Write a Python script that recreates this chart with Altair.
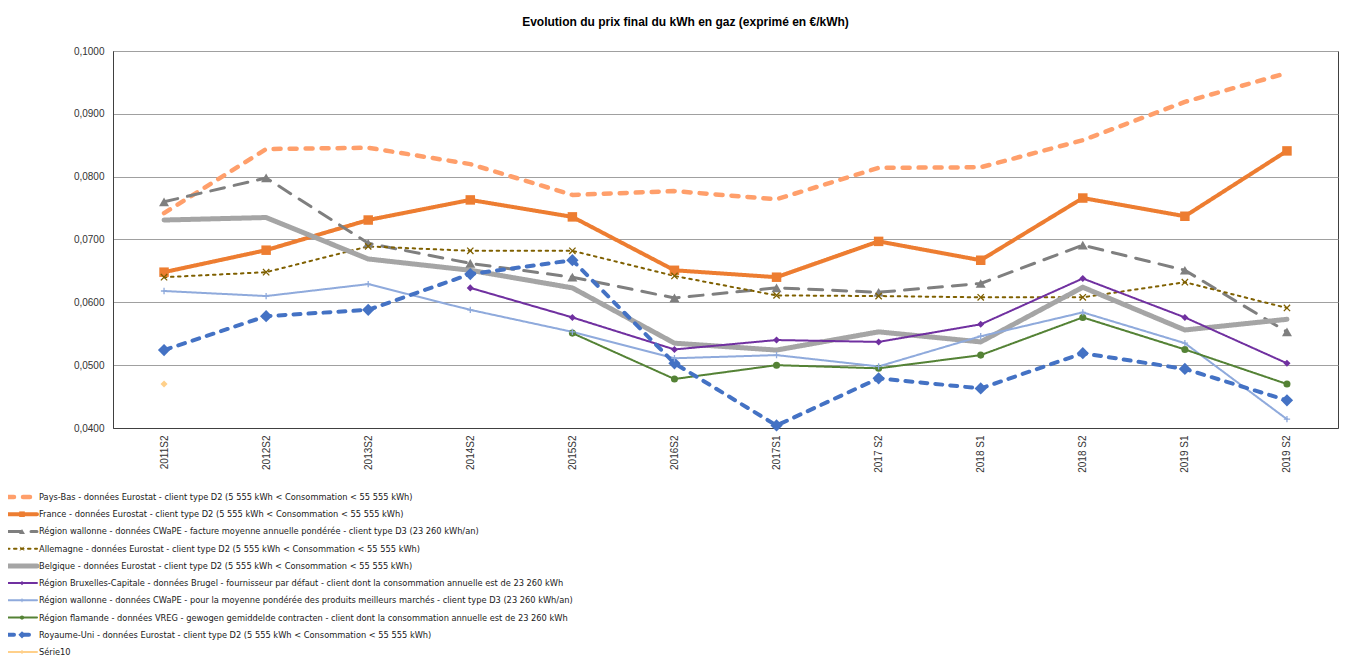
import altair as alt
import pandas as pd

# ---------------- data ----------------
periods = ["2011S2", "2012S2", "2013S2", "2014S2", "2015S2", "2016S2",
           "2017S1", "2017 S2", "2018 S1", "2018 S2", "2019 S1", "2019 S2"]

series_names = [
    "Pays-Bas - données Eurostat - client type D2 (5 555 kWh < Consommation < 55 555 kWh)",
    "France - données Eurostat - client type D2 (5 555 kWh < Consommation < 55 555 kWh)",
    "Région wallonne - données CWaPE - facture moyenne annuelle pondérée  - client type D3 (23 260 kWh/an)",
    "Allemagne - données Eurostat - client type D2 (5 555 kWh < Consommation < 55 555 kWh)",
    "Belgique - données Eurostat - client type D2 (5 555 kWh < Consommation < 55 555 kWh)",
    "Région Bruxelles-Capitale - données Brugel - fournisseur par défaut - client dont la consommation annuelle est de 23 260 kWh",
    "Région wallonne - données CWaPE - pour la moyenne pondérée des produits meilleurs marchés - client type D3 (23 260 kWh/an)",
    "Région flamande - données VREG - gewogen gemiddelde contracten - client dont la consommation annuelle est de 23 260 kWh",
    "Royaume-Uni - données Eurostat - client type D2 (5 555 kWh < Consommation < 55 555 kWh)",
    "Série10",
]

pays_bas = [0.0742, 0.0844, 0.0846, 0.0820, 0.0771, 0.0777, 0.0764, 0.0814, 0.0815, 0.0858, 0.0919, 0.0965]
france = [0.0648, 0.0683, 0.0731, 0.0763, 0.0736, 0.0651, 0.0640, 0.0697, 0.0667, 0.0766, 0.0737, 0.0841]
wallonie_facture = [0.0760, 0.0798, 0.0694, 0.0662, 0.0640, 0.0607, 0.0623, 0.0616, 0.0630, 0.0691, 0.0651, 0.0553]
allemagne = [0.0640, 0.0648, 0.0689, 0.0682, 0.0682, 0.0642, 0.0611, 0.0610, 0.0608, 0.0608, 0.0632, 0.0591]
belgique = [0.0731, 0.0735, 0.0669, 0.0651, 0.0623, 0.0535, 0.0524, 0.0553, 0.0537, 0.0624, 0.0556, 0.0573]
bruxelles = [None, None, None, 0.0623, 0.0576, 0.0525, 0.0540, 0.0537, 0.0565, 0.0638, 0.0576, 0.0503]
wallonie_mm = [0.0618, 0.0610, 0.0629, 0.0588, 0.0553, 0.0511, 0.0516, 0.0498, 0.0546, 0.0584, 0.0535, 0.0414]
flandre = [None, None, None, None, 0.0551, 0.0478, 0.0500, 0.0495, 0.0516, 0.0576, 0.0525, 0.0470]
royaume_uni = [0.0524, 0.0578, 0.0588, 0.0645, 0.0667, 0.0503, 0.0404, 0.0479, 0.0463, 0.0519, 0.0494, 0.0444]
serie10 = [0.0470, None, None, None, None, None, None, None, None, None, None, None]

all_values = [pays_bas, france, wallonie_facture, allemagne, belgique,
              bruxelles, wallonie_mm, flandre, royaume_uni, serie10]

# ---------------- styles ----------------
colors = ["#FF9F6B", "#ED7D31", "#7F7F7F", "#7F6000", "#A5A5A5",
          "#7030A0", "#8FAADC", "#548235", "#4472C4", "#FFD08A"]
dashes = [[7, 9], [1, 0], [14, 10], [2.5, 4.5], [1, 0],
          [1, 0], [1, 0], [1, 0], [7, 8], [1, 0]]
widths = [4.5, 4, 3, 2, 5, 2, 2, 2, 4, 2]
X_PATH = "M-1,-1L1,1M-1,1L1,-1"
PLUS_PATH = "M-1,0L1,0M0,-1L0,1"
shapes = ["circle", "square", "triangle-up", X_PATH, "circle",
          "diamond", PLUS_PATH, "circle", "diamond", "diamond"]
kinds = ["none", "fill", "fill", "stroke", "none",
         "fill", "stroke", "fill", "fill", "fill"]
msizes = [0, 90, 100, 40, 0, 50, 40, 50, 150, 50]

rows = []
for i, (name, vals) in enumerate(zip(series_names, all_values)):
    for p, v in zip(periods, vals):
        rows.append({"serie": name, "periode": p, "prix": v,
                     "w": widths[i], "kind": kinds[i], "msize": msizes[i]})
df = pd.DataFrame(rows)

leg_rows = []
for i, name in enumerate(series_names):
    for lx in (0.0, 1.0):
        leg_rows.append({"serie": name, "lx": lx, "w": widths[i], "kind": kinds[i],
                         "msize": msizes[i] * 0.35, "part": "line"})
    leg_rows.append({"serie": name, "lx": 0.5, "w": widths[i], "kind": kinds[i],
                     "msize": msizes[i] * 0.35, "part": "mark"})
leg_df = pd.DataFrame(leg_rows)

# ---------------- scales ----------------
color_scale = alt.Scale(domain=series_names, range=colors)
dash_scale = alt.Scale(domain=series_names, range=dashes)
shape_scale = alt.Scale(domain=series_names, range=shapes)

x_enc = alt.X("periode:N", sort=periods,
              scale=alt.Scale(type="point", padding=0.5),
              axis=alt.Axis(title=None, labelAngle=270, labelAlign="right",
                            labelBaseline="middle", ticks=False, labelPadding=7,
                            labelFontSize=10, labelColor="#333333",
                            domainColor="#404040", grid=False))
y_ticks = [0.04, 0.05, 0.06, 0.07, 0.08, 0.09, 0.10]
y_enc = alt.Y("prix:Q", scale=alt.Scale(domain=[0.04, 0.10], nice=False, zero=False),
              axis=alt.Axis(title=None, values=y_ticks,
                            labelExpr="replace(format(datum.value, '.4f'), '.', ',')",
                            ticks=False, labelPadding=9, labelFontSize=10,
                            labelColor="#333333", grid=True, gridColor="#A0A0A0",
                            domainColor="#404040"))

color_enc = alt.Color("serie:N", scale=color_scale, legend=None)
dash_enc = alt.StrokeDash("serie:N", scale=dash_scale, legend=None)
shape_enc = alt.Shape("serie:N", scale=shape_scale, legend=None)

base = alt.Chart(df)
lines = base.mark_line(strokeCap="round", strokeJoin="round").encode(
    x=x_enc, y=y_enc, color=color_enc, strokeDash=dash_enc,
    strokeWidth=alt.StrokeWidth("w:Q", scale=None))
pts_fill = base.transform_filter(alt.datum.kind == "fill").mark_point(
    filled=True, opacity=1).encode(
    x=x_enc, y=y_enc, color=color_enc, shape=shape_enc,
    size=alt.Size("msize:Q", scale=None))
pts_stroke = base.transform_filter(alt.datum.kind == "stroke").mark_point(
    filled=False, opacity=1, strokeWidth=1.3).encode(
    x=x_enc, y=y_enc, color=color_enc, shape=shape_enc,
    size=alt.Size("msize:Q", scale=None))
main = alt.layer(lines, pts_fill, pts_stroke)

# ---------------- legend (drawn from data through scales) ----------------
lx_enc = alt.X("lx:Q", scale=alt.Scale(domain=[0, 1], range=[-106, -76]), axis=None)
ly_enc = alt.Y("serie:N", sort=series_names,
               scale=alt.Scale(type="point", domain=series_names, range=[446, 601], padding=0),
               axis=None)
lbase = alt.Chart(leg_df)
leg_lines = lbase.transform_filter(alt.datum.part == "line").mark_line(
    strokeCap="round").encode(
    x=lx_enc, y=ly_enc, color=color_enc, strokeDash=dash_enc, detail="serie:N",
    strokeWidth=alt.StrokeWidth("w:Q", scale=None))
leg_pf = lbase.transform_filter((alt.datum.part == "mark") & (alt.datum.kind == "fill")).mark_point(
    filled=True, opacity=1).encode(
    x=lx_enc, y=ly_enc, color=color_enc, shape=shape_enc,
    size=alt.Size("msize:Q", scale=None))
leg_ps = lbase.transform_filter((alt.datum.part == "mark") & (alt.datum.kind == "stroke")).mark_point(
    filled=False, opacity=1, strokeWidth=1).encode(
    x=lx_enc, y=ly_enc, color=color_enc, shape=shape_enc,
    size=alt.Size("msize:Q", scale=None))
leg_text = lbase.transform_filter((alt.datum.part == "line") & (alt.datum.lx == 1)).mark_text(
    align="left", baseline="middle", dx=2,
    font="'Liberation Sans Narrow', 'DejaVu Sans Condensed', 'Roboto Condensed', 'Arial Narrow', 'Liberation Sans'",
    fontSize=9.2, color="#1a1a1a").encode(
    x=lx_enc, y=ly_enc, text="serie:N")
legend = alt.layer(leg_lines, leg_pf, leg_ps, leg_text)

chart = alt.layer(main, legend).resolve_scale(
    x="independent", y="independent"
).properties(
    width=1225, height=377,
    padding={"left": 105, "top": 43, "right": 24, "bottom": 240},
    autosize=alt.AutoSizeParams(type="none"),
    title=alt.TitleParams(
        "Evolution du prix final du kWh en gaz (exprimé en €/kWh)",
        font="Liberation Sans", fontSize=12, fontWeight="bold", color="#000000",
        anchor="middle", dx=-40, offset=17),
).configure_view(
    stroke="#404040", strokeWidth=1
).configure_axis(
    labelFont="Liberation Sans"
)

chart.save("out.html", embed_options={"renderer": "svg", "actions": False})
